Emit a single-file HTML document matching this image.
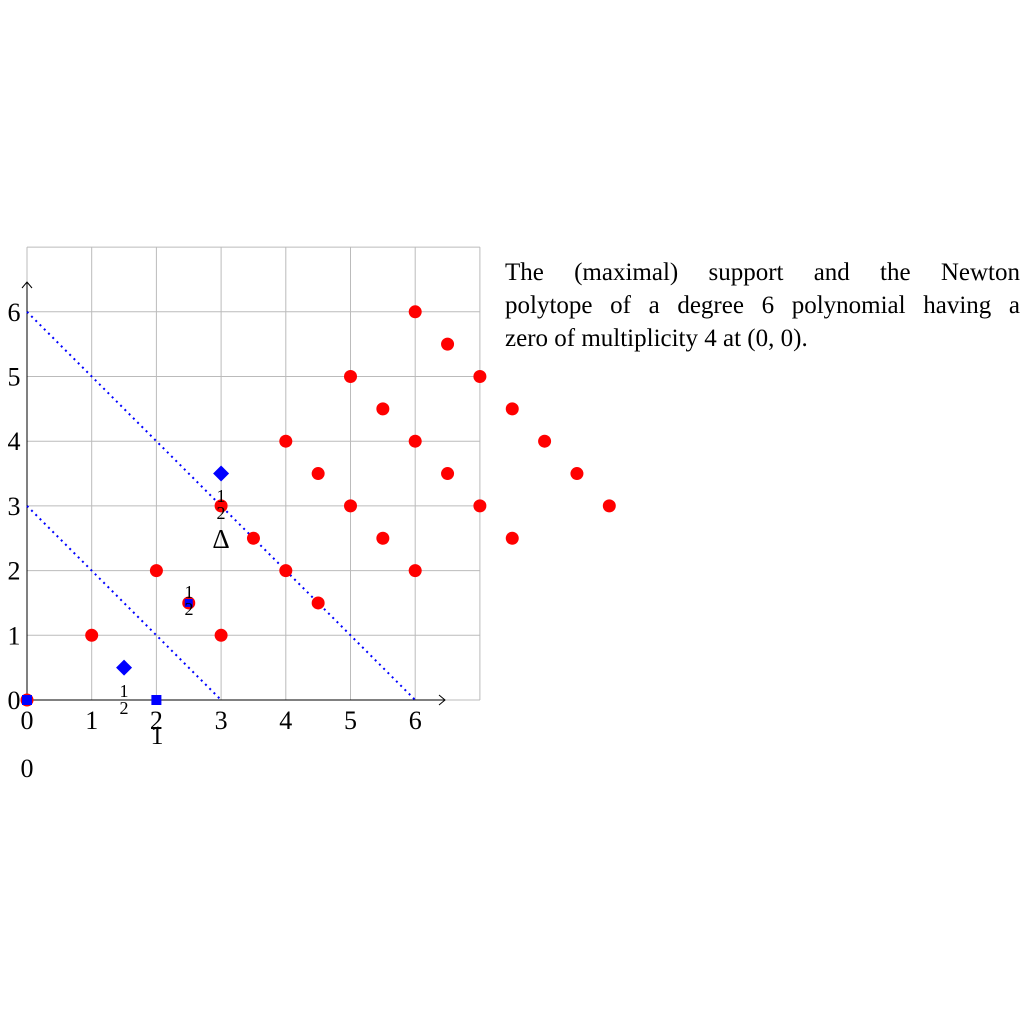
<!DOCTYPE html>
<html><head><meta charset="utf-8"><style>
body{margin:0;background:#fff;}
svg text{font-family:"Liberation Serif",serif;}
#cap{position:absolute;left:505px;top:256px;width:515px;font:25px/33px "Liberation Serif",serif;}
#cap div{text-align:justify;text-align-last:justify;white-space:nowrap;}
#cap div.l{text-align-last:left;}
</style></head><body>
<svg width="1024" height="1024" id="s"></svg>
<div id="cap"><div>The (maximal) support and the Newton</div><div>polytope of a degree 6 polynomial having a</div><div class="l">zero of multiplicity 4 at (0, 0).</div></div>
<script>
const redX=[0,1,2,2.5,3,3,3.5,4,4,4.5,4.5,5,5,5.5,5.5,6,6,6,6.5,6.5,7,7,7.5,7.5,8,8.5,9];
const redY=[0,1,2,1.5,1,3,2.5,2,4,1.5,3.5,3,5,2.5,4.5,2,4,6,3.5,5.5,3,5,2.5,4.5,4,3.5,3];
const sqX=[0,2];const sqY=[0,0];
const smX=[2.5];const smY=[1.5];
const diaX=[1.5,3];const diaY=[0.5,3.5];
const lineA=[[0,3],[3,0]];const lineB=[[0,6],[6,0]];
const ticks=[0,1,2,3,4,5,6];
const NS="http://www.w3.org/2000/svg",s=document.getElementById('s');
const X=v=>27+v*64.7,Y=v=>700-v*64.7;
function mk(t,a,n){const e=document.createElementNS(NS,t);for(const k in a)e.setAttribute(k,a[k]);


s.appendChild(e);return e;}
for(let i=0;i<=7;i++){mk('line',{x1:X(i),x2:X(i),y1:Y(0),y2:Y(7),stroke:'#bbb','stroke-width':1},'grid-v');
mk('line',{x1:X(0),x2:X(7),y1:Y(i),y2:Y(i),stroke:'#bbb','stroke-width':1},'grid-h');}
mk('line',{x1:X(0),x2:445,y1:Y(0),y2:Y(0),stroke:'#000','stroke-width':1},'x-axis');
mk('path',{d:'M439,695 L445,700 L439,705',fill:'none',stroke:'#000'},'x-arrow');
mk('line',{x1:X(0),x2:X(0),y1:Y(0),y2:282,stroke:'#000','stroke-width':1},'y-axis');
mk('path',{d:'M22,288 L27,282 L32,288',fill:'none',stroke:'#000'},'y-arrow');
ticks.forEach(t=>{mk('text',{x:X(t),y:729,'font-size':26,'text-anchor':'middle'},'x-tick').textContent=t;
mk('text',{x:14,y:Y(t)+9,'font-size':26,'text-anchor':'middle'},'y-tick').textContent=t;});
[lineA,lineB].forEach(l=>mk('line',{x1:X(l[0][0]),y1:Y(l[0][1]),x2:X(l[1][0]),y2:Y(l[1][1]),stroke:'#00f','stroke-width':2,'stroke-dasharray':'2,4'},'dotted-line'));
redX.forEach((x,i)=>mk('circle',{cx:X(x),cy:Y(redY[i]),r:6.5,fill:'#f00'},'red-point'));
sqX.forEach((x,i)=>mk('rect',{x:X(x)-5,y:Y(sqY[i])-5,width:10,height:10,fill:'#00f'},'blue-square'));
smX.forEach((x,i)=>mk('rect',{x:X(x)-4,y:Y(smY[i])-4,width:8,height:8,fill:'#00f'},'blue-small-square'));
diaX.forEach((x,i)=>{const cx=X(x),cy=Y(diaY[i]);mk('path',{d:`M${cx},${cy-8}L${cx+8},${cy}L${cx},${cy+8}L${cx-8},${cy}Z`,fill:'#00f'},'blue-diamond');});
function frac(x,y,n){mk('text',{x:x,y:y,'font-size':18,'text-anchor':'middle'},n).textContent='1';
mk('text',{x:x,y:y+17,'font-size':18,'text-anchor':'middle'},n).textContent='2';}
frac(124,697,'half-label');frac(189,598,'half-label');frac(221,502,'half-label');
mk('text',{x:221,y:548,'font-size':27,'text-anchor':'middle'},'delta-label').textContent='Δ';
mk('text',{x:157,y:744,'font-size':26,'text-anchor':'middle'},'one-label').textContent='1';
mk('text',{x:27,y:777,'font-size':26,'text-anchor':'middle'},'zero-label').textContent='0';
</script></body></html>
